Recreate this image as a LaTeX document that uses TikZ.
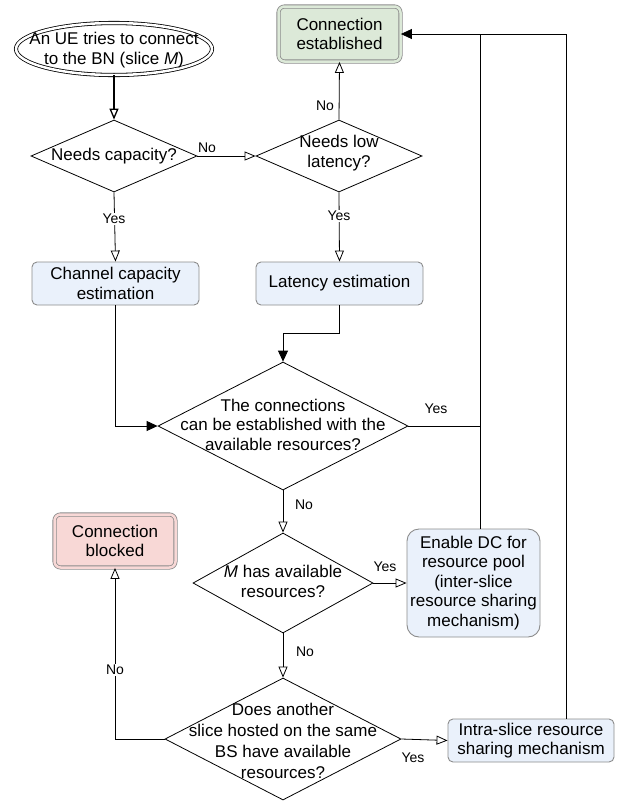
\documentclass[tikz,border=0pt]{standalone}
\usepackage{fontspec}
\setmainfont{Liberation Sans}
\usetikzlibrary{shapes.geometric, arrows.meta}

\definecolor{boxblue}{HTML}{EAF1FB}
\definecolor{boxgreen}{HTML}{DCE9D8}
\definecolor{boxred}{HTML}{F8D8D6}
\definecolor{edgegray}{HTML}{8C8C8C}

\tikzset{
  base/.style={font=\fontsize{17}{19.5}\selectfont, align=center, inner sep=0pt},
  decision/.style={diamond, draw, line width=0.8pt, inner sep=0pt},
  startshape/.style={ellipse, draw, line width=0.8pt, double, double distance=2.5pt, inner sep=0pt},
  process/.style={base, rectangle, rounded corners=5pt, draw=edgegray, fill=boxblue, line width=0.9pt},
  terminal/.style={base, rectangle, rounded corners=6pt, draw=edgegray, line width=0.8pt, double distance=2.5pt},
  flow/.style={line width=0.8pt},
  openarrow/.style={flow, -{Triangle[open, length=11pt, width=9pt]}},
  fullarrow/.style={flow, -{Triangle[length=11pt, width=10pt]}},
  tag/.style={font=\fontsize{14}{16}\selectfont, inner sep=1pt},
  tagon/.style={tag, fill=white},
}

\begin{document}
\begin{tikzpicture}[x=1pt, y=-1pt]
\useasboundingbox (0,0) rectangle (619,801);

% start
\node[startshape, minimum width=196pt, minimum height=52pt] (start) at (114,49) {};
\node[base] (startt) at (114,50) {An UE tries to connect\\to the BN (slice \textit{M})};

% decisions
\node[decision, minimum width=166pt, minimum height=72pt] (q1) at (114,156) {};
\node[base] (q1t) at (114,156) {Needs capacity?};

\node[decision, minimum width=166pt, minimum height=72pt] (q2) at (339,156) {};
\node[base] (q2t) at (339,153) {Needs low\\latency?};

\node[decision, minimum width=250pt, minimum height=128pt] (q3) at (283,426) {};
\node[base] (q3t) at (283,424.5) {The connections\\can be established with the\\available resources?};

\node[decision, minimum width=180pt, minimum height=100pt] (q4) at (283,583) {};
\node[base] (q4t) at (283,581.5) {\textit{M} has available\\resources?};

\node[decision, minimum width=236pt, minimum height=122pt] (q5) at (283,739) {};
\node[base, font=\fontsize{17}{21}\selectfont] (q5t) at (283,741) {Does another\\slice hosted on the same\\BS have available\\resources?};

% boxes
\node[terminal, fill=boxgreen, double=boxgreen, minimum width=122pt, minimum height=55pt] (ok) at (339.5,34) {Connection\\established};
\node[process, minimum width=167pt, minimum height=43pt] (est1) at (115.5,283.5) {Channel capacity\\estimation};
\node[process, minimum width=167pt, minimum height=43pt] (est2) at (339.5,283.5) {Latency estimation};
\node[terminal, fill=boxred, double=boxred, minimum width=121pt, minimum height=53pt] (blocked) at (115,541) {Connection\\blocked};
\node[process, rounded corners=12pt, minimum width=133pt, minimum height=108pt] (dc) at (473.5,583) {Enable DC for\\resource pool\\(inter-slice\\resource sharing\\mechanism)};
\node[process, minimum width=166pt, minimum height=43pt] (intra) at (531,740.5) {Intra-slice resource\\sharing mechanism};

% helper points for the return lines
\coordinate (r1) at (480,34);
\coordinate (r2) at (566,34);
\coordinate (j2) at (283,333);

% connectors
\draw[openarrow, line width=1.3pt] (start.south) -- (q1.north);
\draw[openarrow] (q1.east) -- (q2.west);
\draw[openarrow] (q2.north) -- (ok.south);
\draw[openarrow] (q1.south) -- (est1.north);
\draw[openarrow] (q2.south) -- (est2.north);
\draw[fullarrow] (est1.south) |- (q3.west);
\draw[fullarrow] (est2.south) |- (j2) -- (q3.north);
\draw[flow] (q3.east) -- (q3.east -| r1);
\draw[flow] (dc.north -| r1) -- (r1);
\draw[fullarrow] (intra.north -| r2) -- (r2) -- (ok.east);
\draw[openarrow] (q3.south) -- (q4.north);
\draw[openarrow] (q4.east) -- (dc.west);
\draw[openarrow] (q4.south) -- (q5.north);
\draw[openarrow] (q5.west) -| (blocked.south);
\draw[openarrow] (q5.east) -- (intra.west);

% connector labels
\node[tag] (l1) at (207,148) {No};
\node[tag] (l2) at (325,106) {No};
\node[tagon] (l3) at (114,219) {Yes};
\node[tagon] (l4) at (339,216) {Yes};
\node[tag] (l5) at (436,409) {Yes};
\node[tag] (l6) at (304,505) {No};
\node[tag] (l7) at (385,567) {Yes};
\node[tag] (l8) at (305,652) {No};
\node[tagon] (l9) at (115,670) {No};
\node[tag] (l10) at (413,758) {Yes};

\end{tikzpicture}
\end{document}
